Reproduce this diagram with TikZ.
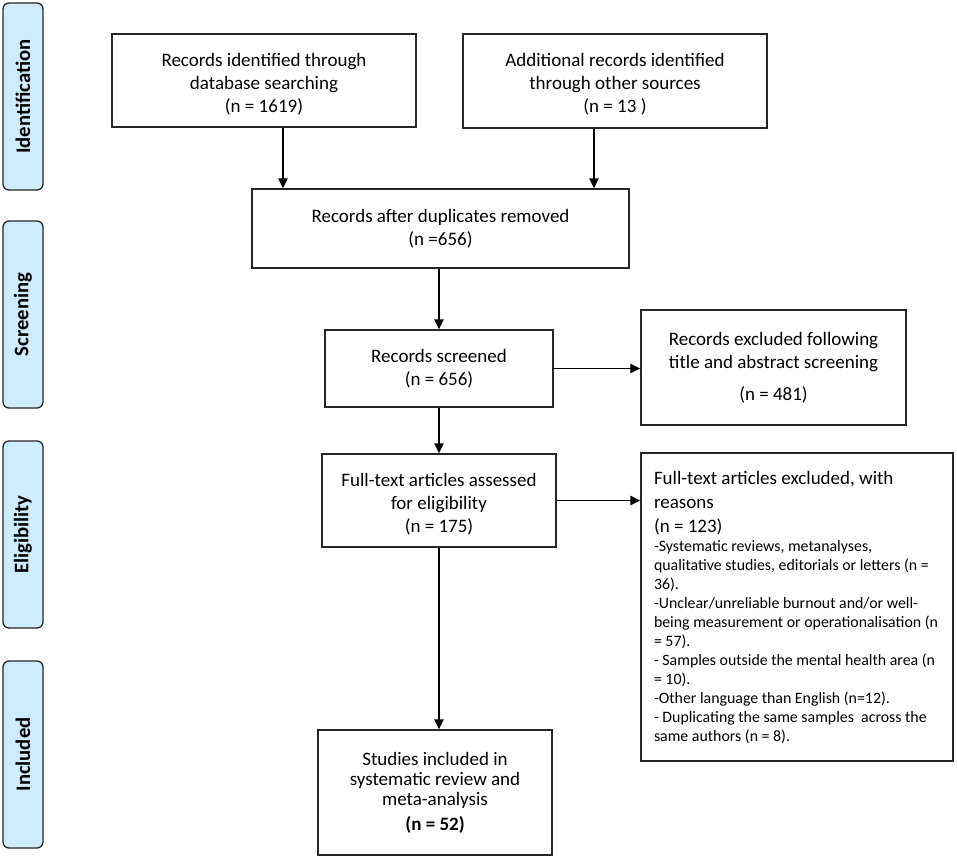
\documentclass[tikz,border=0pt]{standalone}
\usepackage{fontspec}
\setmainfont{Carlito}
\usetikzlibrary{arrows.meta}
\definecolor{lblue}{RGB}{207,236,253}
\newcommand{\lowstrut}{\rule{0pt}{15pt}}
\begin{document}
\begin{tikzpicture}[x=0.75pt,y=-0.75pt,
  box/.style={draw=black!85, line width=1.1pt, align=center, inner sep=2pt,
    font=\fontsize{14.25}{17.25}\selectfont},
  phase/.style={draw=black!85, line width=1pt, fill=lblue, rounded corners=4.5pt,
    rotate=90, minimum width=140.25pt, minimum height=30pt, inner sep=0pt,
    font=\bfseries\fontsize{15.5}{18}\selectfont},
  arr/.style={line width=1.4pt, -{Triangle[length=7.5pt,width=7pt]}}]
\useasboundingbox (0,0) rectangle (957,858);

% phase labels
\node[phase] (ident)  at (23,96.5)  {Identification};
\node[phase] (screen) at (23,314.5) {Screening};
\node[phase] (elig)   at (23,534.5) {Eligibility};
\node[phase] (incl)   at (23,754.5) {Included};

% boxes
\node[box, minimum width=228pt, minimum height=69.75pt] (b1) at (264,80.5)
  {\lowstrut Records identified through\\database searching\\(n = 1619)};
\node[box, minimum width=228pt, minimum height=70.5pt] (b2) at (615,81)
  {\lowstrut Additional records identified\\through other sources\\(n = 13 )};
\node[box, minimum width=282.75pt, minimum height=59.25pt] (b3) at (440.5,228.5)
  {Records after duplicates removed\\(n =656)};
\node[box, minimum width=171pt, minimum height=57.75pt] (b4) at (439,368.5)
  {Records screened\\(n = 656)};
\node[box, minimum width=198.75pt, minimum height=86.25pt] (b5) at (773.5,367.5)
  {Records excluded following\\title and abstract screening\\[7pt](n = 481)};
\node[box, minimum width=175.5pt, minimum height=69.75pt] (b6) at (439,500.5)
  {\lowstrut Full-text articles assessed\\for eligibility\\(n = 175)};
\node[box, minimum width=234pt, minimum height=231pt, inner sep=0pt] (b7) at (797,607)
  {\begin{minipage}{214.5pt}\raggedright
   \fontsize{14.25}{18}\selectfont Full-text articles excluded, with\\reasons\\(n = 123)\par
   \fontsize{11.9}{14.25}\selectfont
   -Systematic reviews, metanalyses,\\
   qualitative studies, editorials or letters (n =\\
   36).\\
   -Unclear/unreliable burnout and/or well-\\
   being measurement or operationalisation (n\\
   = 57).\\
   - Samples outside the mental health area (n\\
   = 10).\\
   -Other language than English (n=12).\\
   - Duplicating the same samples\ \ across the\\
   same authors (n = 8).\par
   \end{minipage}};
\node[box, minimum width=175.5pt, minimum height=93.75pt,
  font=\fontsize{14.25}{15}\selectfont] (b8) at (435,792.5)
  {Studies included in\\systematic review and\\meta-analysis\\[4pt]\textbf{(n = 52)}};

% connectors
\coordinate (s1) at ([xshift=14.25pt]b1.south);
\coordinate (s2) at ([xshift=-15.75pt]b2.south);
\draw[arr] (s1) -- (s1 |- b3.north);
\draw[arr] (s2) -- (s2 |- b3.north);
\draw[arr] (b3.south -| b4.north) -- (b4.north);
\draw[arr] (b4.south) -- (b6.north);
\draw[arr] (b4.east) -- (b4.east -| b5.west);
\draw[arr] (b6.east) -- (b6.east -| b7.west);
\draw[arr] (b6.south) -- (b6.south |- b8.north);
\end{tikzpicture}
\end{document}
